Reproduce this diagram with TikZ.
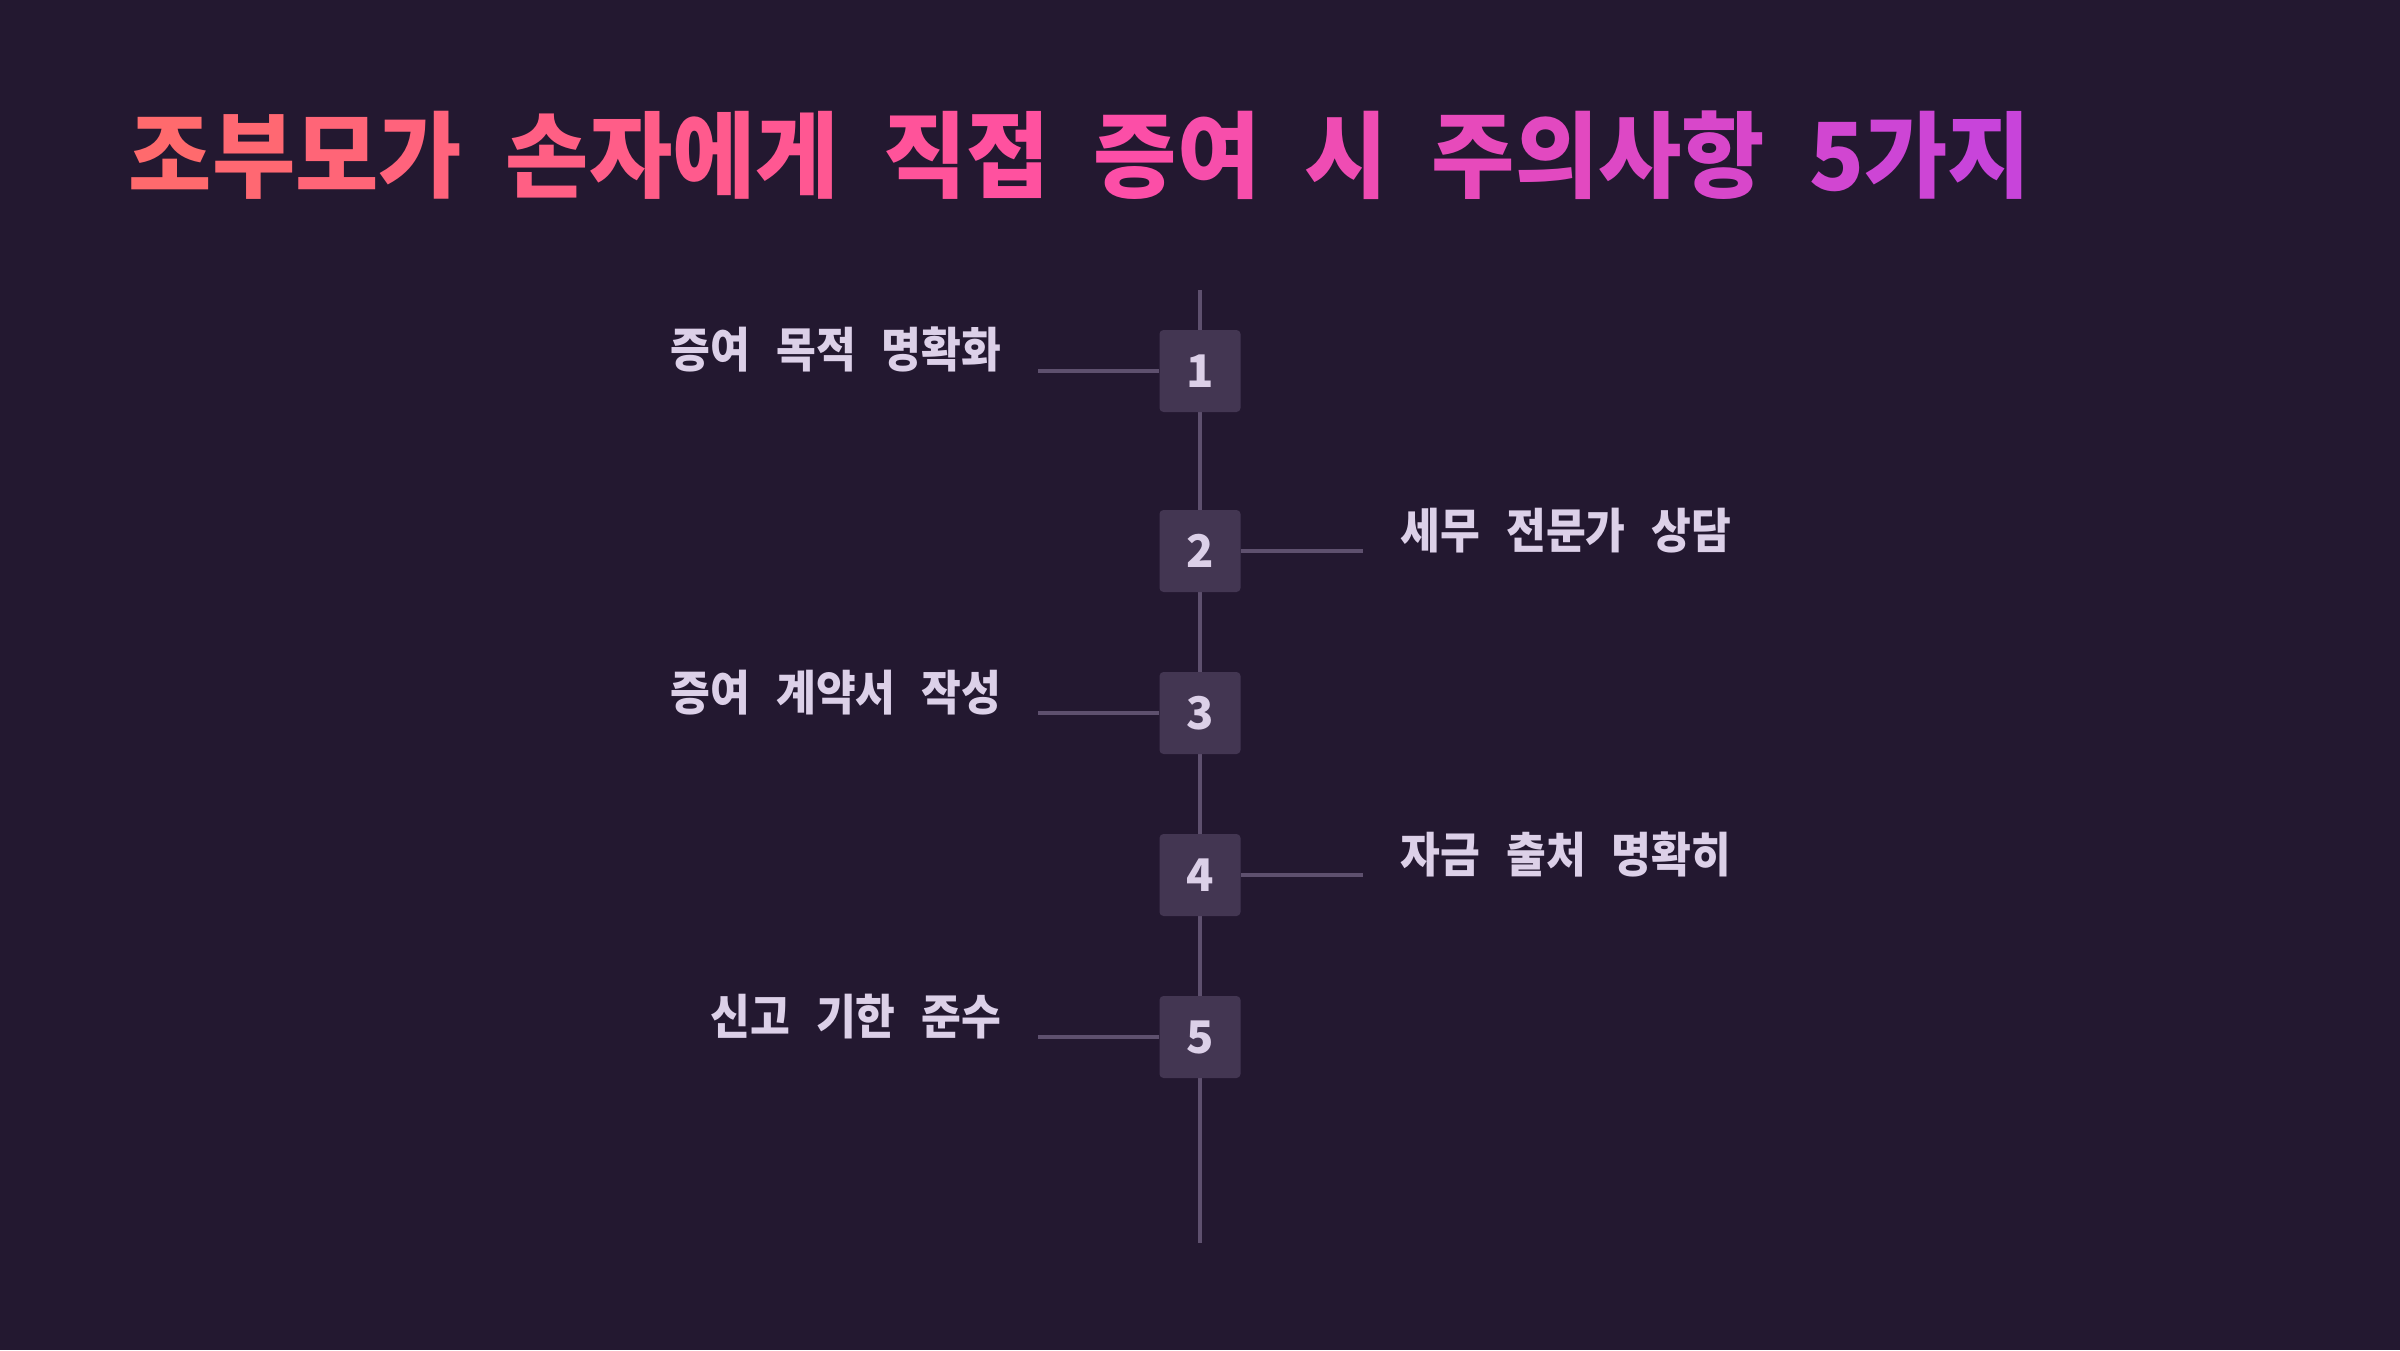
\documentclass[tikz,border=0pt]{standalone}
\usepackage{fontspec}
\usepackage{xcolor}
\newfontfamily\krt[FakeStretch=0.965]{Noto Sans CJK KR}
\newfontfamily\krl[FakeStretch=0.905]{Noto Sans CJK KR}
\newfontfamily\krn{Noto Sans CJK KR}
\definecolor{bg}{HTML}{231830}
\definecolor{boxfill}{HTML}{433652}
\definecolor{linec}{HTML}{5E506E}
\definecolor{txt}{HTML}{DCD0E8}
\definecolor{gstart}{HTML}{FF6B6B}
\definecolor{gmid}{HTML}{FF4FA3}
\definecolor{gend}{HTML}{C644DC}
\newcommand\ga[2]{{\color{gmid!#1!gstart}#2}}
\newcommand\gb[2]{{\color{gend!#1!gmid}#2}}
\newcommand\tsp{\hspace{0.44cm}}
\newcommand\lsp{\hspace{0.26cm}}
\tikzset{
  numbox/.style={draw=none, fill=boxfill, rounded corners=0.04cm, minimum width=0.81cm, minimum height=0.82cm, inner sep=0pt, text=txt, font=\krn\bfseries\fontsize{12.8pt}{14pt}\selectfont},
  conn/.style={draw=linec, line width=0.9pt},
  lbl/.style={inner sep=0pt, text=txt, font=\krl\bfseries\fontsize{13.6pt}{16pt}\selectfont},
}
\begin{document}
\begin{tikzpicture}
\useasboundingbox (0,0) rectangle (24,13.5);
\fill[bg] (0,0) rectangle (24,13.5);
% title
\node[anchor=base west, inner sep=0pt, font=\krt\bfseries\fontsize{26.7pt}{30pt}\selectfont] (title) at (1.28,11.59)
 {\ga{4}{조}\ga{12}{부}\ga{22}{모}\ga{30}{가}\tsp\ga{44}{손}\ga{52}{자}\ga{60}{에}\ga{70}{게}\tsp\ga{84}{직}\ga{92}{접}\tsp\gb{6}{증}\gb{14}{여}\tsp\gb{28}{시}\tsp\gb{42}{주}\gb{50}{의}\gb{60}{사}\gb{68}{항}\tsp\gb{80}{5}\gb{88}{가}\gb{96}{지}};
% spine
\coordinate (top) at (12,10.60);
\coordinate (bot) at (12,1.07);
\draw[conn] (top) -- (bot);
% boxes
\node[numbox] (b1) at (12,9.79) {1};
\node[numbox] (b2) at (12,7.99) {2};
\node[numbox] (b3) at (12,6.37) {3};
\node[numbox] (b4) at (12,4.75) {4};
\node[numbox] (b5) at (12,3.13) {5};
% connector ends
\coordinate (l1) at (10.38,9.79);
\coordinate (r2) at (13.63,7.99);
\coordinate (l3) at (10.38,6.37);
\coordinate (r4) at (13.63,4.75);
\coordinate (l5) at (10.38,3.13);
\draw[conn] (l1) -- (b1.west);
\draw[conn] (b2.east) -- (r2);
\draw[conn] (l3) -- (b3.west);
\draw[conn] (b4.east) -- (r4);
\draw[conn] (l5) -- (b5.west);
% labels
\node[lbl, anchor=base east] (t1) at (10.02,9.82) {증여\lsp 목적\lsp 명확화};
\node[lbl, anchor=base west] (t2) at (14.00,8.02) {세무\lsp 전문가\lsp 상담};
\node[lbl, anchor=base east] (t3) at (10.02,6.40) {증여\lsp 계약서\lsp 작성};
\node[lbl, anchor=base west] (t4) at (14.00,4.78) {자금\lsp 출처\lsp 명확히};
\node[lbl, anchor=base east] (t5) at (10.02,3.16) {신고\lsp 기한\lsp 준수};
\end{tikzpicture}
\end{document}
